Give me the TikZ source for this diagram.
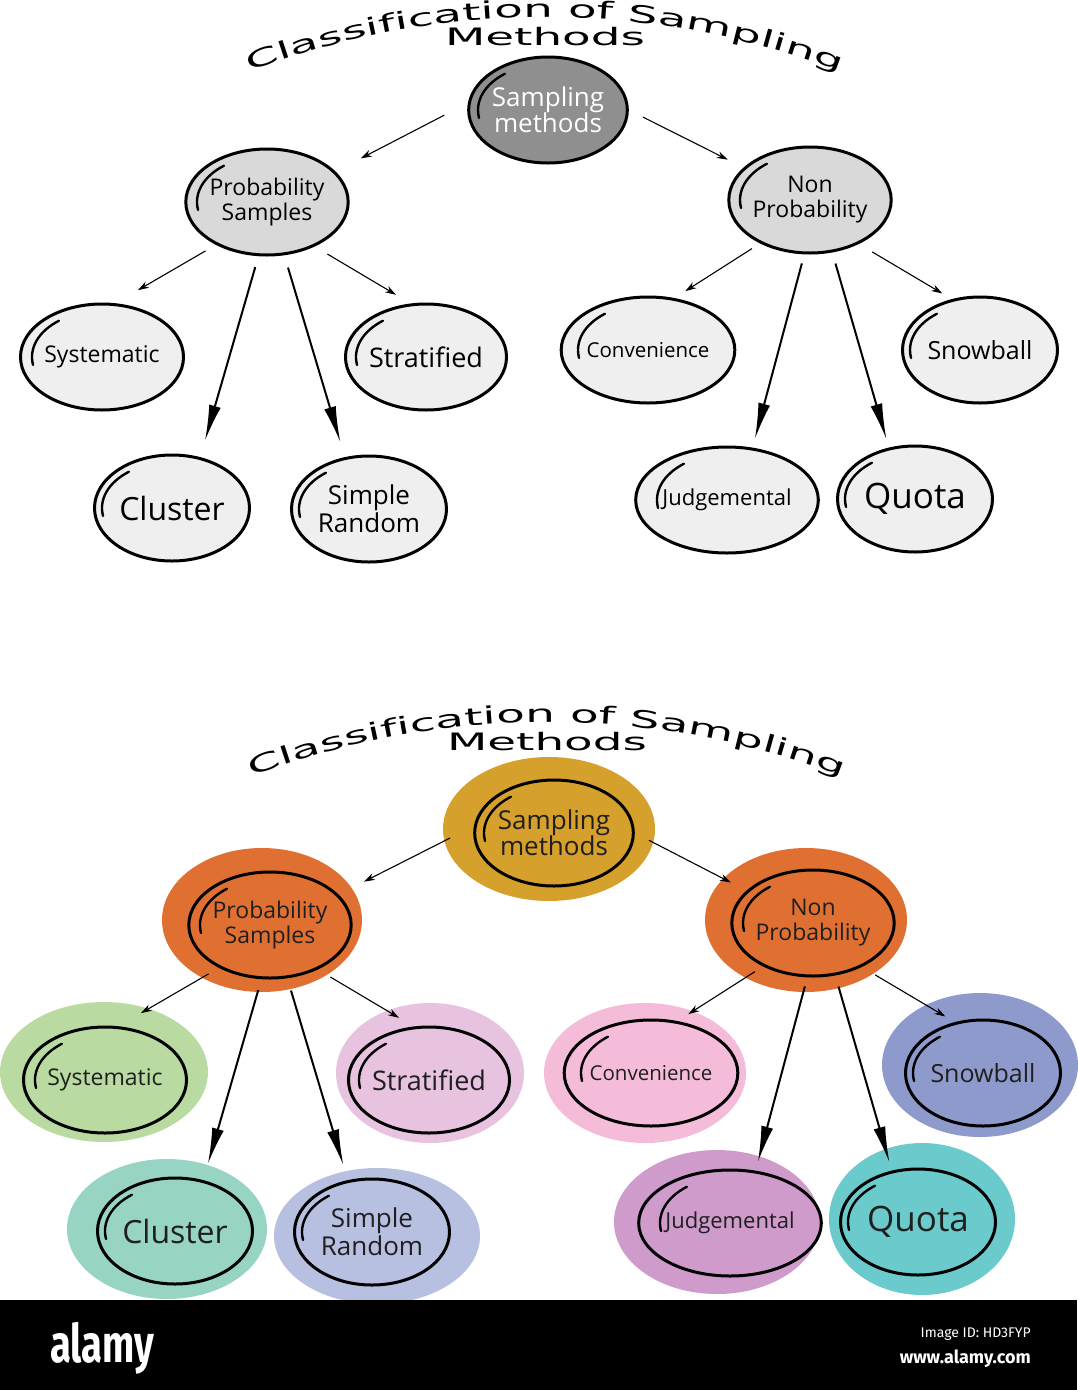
\documentclass[tikz,border=0pt]{standalone}
\usepackage{fontspec}
\setmainfont{Open Sans}
\newfontfamily\titlefont[FakeStretch=1.95]{DejaVu Sans}
\newfontfamily\alamyfont[FakeStretch=0.72]{Fira Sans}
\newfontfamily\barfont{Fira Sans}
\usetikzlibrary{shapes.geometric,arrows.meta,decorations.text}
\newcommand{\fs}[2]{\fontsize{#1}{#2}\selectfont}
\newcommand{\tsz}{\titlefont\fontsize{24}{24}\selectfont}
\newcommand{\htick}[1]{\draw[line width=2.4pt,line cap=round] (#1.center) ++(190:70 and 46) arc[start angle=190,end angle=128,x radius=70,y radius=46];}
\definecolor{gmid}{RGB}{143,143,143}
\definecolor{glight}{RGB}{217,217,217}
\definecolor{gleaf}{RGB}{239,239,239}
\definecolor{cgold}{RGB}{214,160,44}
\definecolor{corange}{RGB}{224,112,50}
\definecolor{cgreen}{RGB}{185,219,162}
\definecolor{cpinkA}{RGB}{231,195,223}
\definecolor{cteal}{RGB}{151,212,196}
\definecolor{clav}{RGB}{184,192,226}
\definecolor{cpinkB}{RGB}{244,188,216}
\definecolor{cblue}{RGB}{142,154,204}
\definecolor{cpurple}{RGB}{206,155,203}
\definecolor{cquota}{RGB}{107,202,203}
\begin{document}
\begin{tikzpicture}[x=1pt,y=1pt,
  hand/.style={ellipse, draw=black, line width=3pt, minimum width=155pt, minimum height=106pt, inner sep=0pt, align=center},
  bgell/.style={ellipse, draw=none, inner sep=0pt},
  sarr/.style={-{Stealth[length=11pt,width=7pt]}, line width=1.1pt},
  barr/.style={-{Latex[length=36pt,width=12pt]}, line width=2pt},
  btext/.style={text=black!88}
]
\useasboundingbox (0,0) rectangle (1077,-1390);
\fill[white] (0,0) rectangle (1077,-1390);

% ---------- titles ----------
\path[decorate, decoration={text along path, text align=center, text={|\tsz|Classification of Sampling}}]
  (237.8,-76.7) arc[start angle=112,end angle=68,radius=820];
\node[font=\tsz, anchor=base, inner sep=0pt] (ttitle) at (545,-45) {Methods};
\path[decorate, decoration={text along path, text align=center, text={|\tsz|Classification of Sampling}}]
  (239.8,-781.7) arc[start angle=112,end angle=68,radius=820];
\node[font=\tsz, anchor=base, inner sep=0pt] (btitle) at (547,-750) {Methods};

% ---------- top (grey) diagram ----------
\node[hand, fill=gmid, text=white, font=\fs{26}{26}] (tsm) at (548,-110) {Sampling\\methods};
\node[hand, fill=glight, font=\fs{23}{25}] (tps) at (267,-202) {Probability\\Samples};
\node[hand, fill=glight, font=\fs{23}{25}] (tnp) at (810,-200) {Non\\Probability};
\node[hand, fill=gleaf, font=\fs{23}{25}] (tsy) at (102,-357) {Systematic};
\node[hand, fill=gleaf, font=\fs{27}{27}] (tst) at (426,-357) {Stratified};
\node[hand, fill=gleaf, font=\fs{32}{32}] (tcl) at (172,-508) {Cluster};
\node[hand, fill=gleaf, font=\fs{26}{28}] (tsr) at (369,-509) {Simple\\Random};
\node[hand, fill=gleaf, font=\fs{20.5}{22}] (tco) at (648,-350) {Convenience};
\node[hand, fill=gleaf, font=\fs{25}{25}] (tsn) at (980,-350) {Snowball};
\node[hand, fill=gleaf, font=\fs{22}{22}] (tju) at (727,-500) {Judgemental};
\node[hand, fill=gleaf, font=\fs{35}{35}] (tqu) at (915,-499) {Quota};

% ---------- bottom (colour) diagram: coloured discs ----------
\node[bgell, fill=cgold, minimum width=212pt, minimum height=144pt] (bsmbg) at (549,-829) {};
\node[bgell, fill=corange, minimum width=200pt, minimum height=144pt] (bpsbg) at (262,-920) {};
\node[bgell, fill=corange, minimum width=202pt, minimum height=144pt] (bnpbg) at (806,-920) {};
\node[bgell, fill=cgreen, minimum width=208pt, minimum height=140pt] (bsybg) at (104,-1072) {};
\node[bgell, fill=cpinkA, minimum width=188pt, minimum height=140pt] (bstbg) at (430,-1073) {};
\node[bgell, fill=cteal, minimum width=200pt, minimum height=140pt] (bclbg) at (167,-1229) {};
\node[bgell, fill=clav, minimum width=206pt, minimum height=136pt] (bsrbg) at (377,-1236) {};
\node[bgell, fill=cpinkB, minimum width=202pt, minimum height=140pt] (bcobg) at (645,-1073) {};
\node[bgell, fill=cblue, minimum width=196pt, minimum height=144pt] (bsnbg) at (980,-1065) {};
\node[bgell, fill=cpurple, minimum width=206pt, minimum height=144pt] (bjubg) at (717,-1222) {};
\node[bgell, fill=cquota, minimum width=186pt, minimum height=152pt] (bqubg) at (922,-1219) {};

% hand-drawn rings
\node[hand, btext, font=\fs{26}{26}] (bsm) at (554,-833) {Sampling\\methods};
\node[hand, btext, font=\fs{23}{25}] (bps) at (270,-925) {Probability\\Samples};
\node[hand, btext, font=\fs{23}{25}] (bnp) at (813,-923) {Non\\Probability};
\node[hand, btext, font=\fs{23}{25}] (bsy) at (105,-1080) {Systematic};
\node[hand, btext, font=\fs{27}{27}] (bst) at (429,-1080) {Stratified};
\node[hand, btext, font=\fs{32}{32}] (bcl) at (175,-1231) {Cluster};
\node[hand, btext, font=\fs{26}{28}] (bsr) at (372,-1232) {Simple\\Random};
\node[hand, btext, font=\fs{20.5}{22}] (bco) at (651,-1073) {Convenience};
\node[hand, btext, font=\fs{25}{25}] (bsn) at (983,-1073) {Snowball};
\node[hand, btext, font=\fs{22}{22}] (bju) at (730,-1223) {Judgemental};
\node[hand, btext, font=\fs{35}{35}] (bqu) at (918,-1222) {Quota};

% pen-start ticks
\foreach \n in {tsm,tps,tnp,tsy,tst,tcl,tsr,tco,tsn,tju,tqu,bsm,bps,bnp,bsy,bst,bcl,bsr,bco,bsn,bju,bqu} {\htick{\n}}

% ---------- connectors ----------
\foreach \p in {t,b} {
  \draw[sarr, shorten <=26.5pt, shorten >=28.5pt] (\p sm.175) -- (\p ps.24.4);
  \draw[sarr, shorten <=15.8pt, shorten >=17.7pt] (\p sm.0) -- (\p np.154.9);
  \draw[sarr, shorten <=12pt, shorten >=26pt] (\p ps.220) -- (\p sy.76);
  \draw[sarr, shorten <=14.7pt, shorten >=17pt] (\p ps.317) -- (\p st.106.7);
  \draw[barr, shorten <=11.3pt, shorten >=17pt] (\p ps.261.5) -- (\p cl.61.3);
  \draw[barr, shorten <=12.8pt, shorten >=15.5pt] (\p ps.288.9) -- (\p sr.115.8);
  \draw[sarr, shorten <=9.6pt, shorten >=12.8pt] (\p np.221.1) -- (\p co.63.7);
  \draw[sarr, shorten <=15.5pt, shorten >=11pt] (\p np.318.8) -- (\p sn.119.7);
  \draw[barr, shorten <=9.4pt, shorten >=9pt] (\p np.264) -- (\p ju.64.4);
  \draw[barr, shorten <=11.5pt, shorten >=8.5pt] (\p np.293.1) -- (\p qu.117.7);
}

% ---------- footer bar ----------
\fill[black] (0,-1300) rectangle (1077,-1390);
\node[text=white, font=\alamyfont\bfseries\fs{53}{53}, anchor=base west, inner sep=0pt] (logo) at (50,-1362) {alamy};
\node[text=white, font=\barfont\fs{14}{14}, anchor=base east, inner sep=0pt] (imgid) at (1031,-1337) {Image ID: HD3FYP};
\node[text=white, font=\barfont\bfseries\fs{18}{18}, anchor=base east, inner sep=0pt] (url) at (1031,-1363) {www.alamy.com};
\end{tikzpicture}
\end{document}
